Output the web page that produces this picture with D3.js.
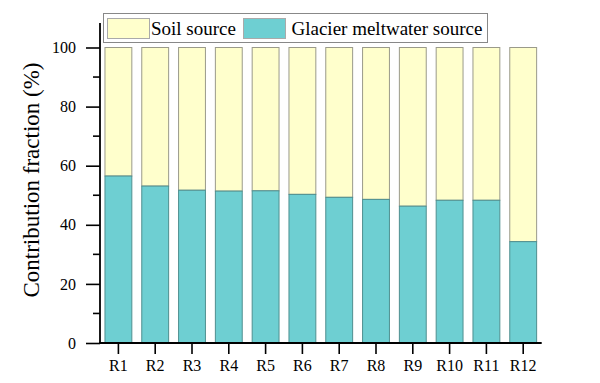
<!DOCTYPE html>
<html><head><meta charset="utf-8">
<script src="https://cdn.jsdelivr.net/npm/d3@7"></script>
<style>body{margin:0;background:#fff}svg{display:block}</style>
</head><body><svg id="c" width="600" height="383" font-family="Liberation Serif"></svg>
<script>
const categories = ["R1","R2","R3","R4","R5","R6","R7","R8","R9","R10","R11","R12"];
const glacier = [56.5,53.1,51.7,51.4,51.5,50.3,49.3,48.6,46.3,48.3,48.3,34.3];
const soil = glacier.map(v => 100 - v);
const yTicks = [0,20,40,60,80,100];
const yMinor = [10,30,50,70,90];
const seriesNames = ["Soil source","Glacier meltwater source"];
const colors = {soil:"#FFFFCC", glacier:"#6ECFD2"};
const FONT = "Liberation Serif";

const svg = d3.select("#c");
const x = d3.scaleBand().domain(categories).range([100, 541.6]).paddingInner(0.27).paddingOuter(0.135);
const y = d3.scaleLinear().domain([0, 100]).range([343, 47.5]);

// bars
const g = svg.append("g");
categories.forEach((c, i) => {
  g.append("rect").attr("x", x(c)).attr("width", x.bandwidth())
    .attr("y", y(100)).attr("height", y(glacier[i]) - y(100))
    .attr("fill", colors.soil).attr("stroke", "#9a9a8a").attr("stroke-width", 1);
  g.append("rect").attr("x", x(c)).attr("width", x.bandwidth())
    .attr("y", y(glacier[i])).attr("height", y(0) - y(glacier[i]))
    .attr("fill", colors.glacier).attr("stroke", "#4f8f8f").attr("stroke-width", 1);
});

// y axis
const yAxis = svg.append("g").attr("transform", "translate(100,0)")
  .call(d3.axisLeft(y).tickValues(yTicks).tickSize(14).tickPadding(10).tickFormat(d3.format("d")))
  .attr("font-family", FONT).attr("font-size", 16);
yAxis.select(".domain").remove();
yAxis.selectAll("line").attr("stroke", "#000").attr("stroke-width", 1.6);
yAxis.selectAll("text").attr("font-family", FONT).attr("font-size", 16).attr("fill", "#000");
svg.append("g").selectAll("line").data(yMinor).join("line")
  .attr("x1", 93).attr("x2", 100).attr("y1", d => y(d)).attr("y2", d => y(d))
  .attr("stroke", "#000").attr("stroke-width", 1.6);
svg.append("line").attr("x1", 100).attr("x2", 100).attr("y1", 23).attr("y2", 343.8)
  .attr("stroke", "#000").attr("stroke-width", 1.8);

// x axis
const xAxis = svg.append("g").attr("transform", "translate(0,343)")
  .call(d3.axisBottom(x).tickSize(11).tickPadding(6))
  .attr("font-family", FONT).attr("font-size", 16);
xAxis.select(".domain").remove();
xAxis.selectAll("line").attr("stroke", "#000").attr("stroke-width", 1.6);
xAxis.selectAll("text").attr("font-family", FONT).attr("font-size", 16).attr("fill", "#000");
svg.append("line").attr("x1", 99).attr("x2", 541.7).attr("y1", 343).attr("y2", 343)
  .attr("stroke", "#000").attr("stroke-width", 1.8);

// y title
svg.append("text").attr("transform", "translate(39,180) rotate(-90)")
  .attr("text-anchor", "middle").attr("font-family", FONT).attr("font-size", 23)
  .text("Contribution fraction (%)");

// legend
const lg = svg.append("g");
lg.append("rect").attr("x", 103.5).attr("y", 13.5).attr("width", 384).attr("height", 29)
  .attr("fill", "#fff").attr("stroke", "#888").attr("stroke-width", 1);
lg.append("rect").attr("x", 107.5).attr("y", 18.5).attr("width", 42).attr("height", 20)
  .attr("fill", colors.soil).attr("stroke", "#aaa");
lg.append("text").attr("x", 151).attr("y", 35).attr("font-family", FONT).attr("font-size", 19).text(seriesNames[0]);
lg.append("rect").attr("x", 243.5).attr("y", 18.5).attr("width", 42).attr("height", 20)
  .attr("fill", colors.glacier).attr("stroke", "#aaa");
lg.append("text").attr("x", 291.5).attr("y", 35).attr("font-family", FONT).attr("font-size", 19).text(seriesNames[1]);
</script></body></html>
